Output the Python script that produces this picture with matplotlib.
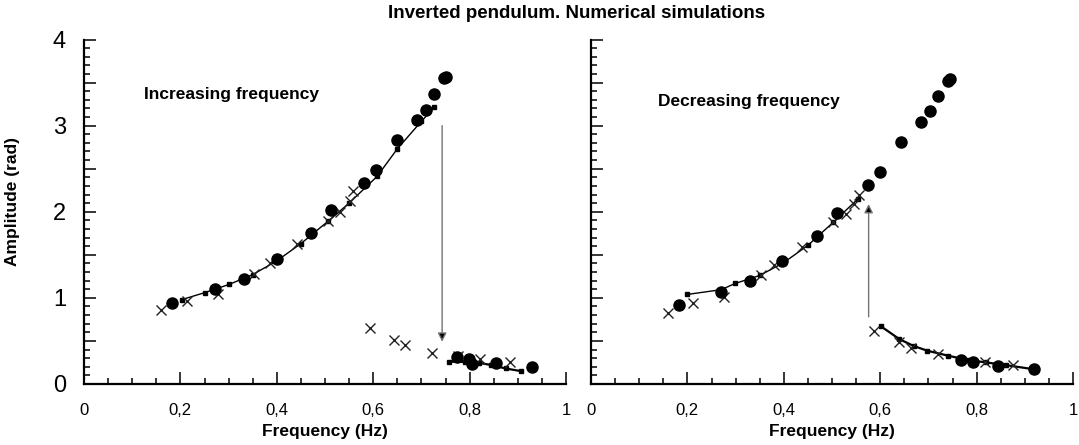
import matplotlib
matplotlib.use("Agg")
import matplotlib.pyplot as plt
from matplotlib.ticker import MultipleLocator, FuncFormatter

# ---------------- data ----------------
# Left panel: increasing frequency
left_dots_x = [0.182, 0.271, 0.332, 0.400, 0.471, 0.513, 0.580, 0.606, 0.649, 0.691,
               0.710, 0.727, 0.747, 0.752, 0.773, 0.798, 0.805, 0.854, 0.930]
left_dots_y = [0.935, 1.098, 1.217, 1.457, 1.750, 2.025, 2.338, 2.490, 2.837, 3.060,
               3.180, 3.370, 3.550, 3.570, 0.310, 0.286, 0.228, 0.239, 0.193]
left_cross_x = [0.159, 0.213, 0.278, 0.353, 0.386, 0.442, 0.507, 0.532, 0.551, 0.559,
                0.593, 0.644, 0.665, 0.722, 0.775, 0.822, 0.883]
left_cross_y = [0.858, 0.966, 1.040, 1.283, 1.410, 1.620, 1.890, 1.998, 2.125, 2.240,
                0.645, 0.510, 0.452, 0.363, 0.320, 0.286, 0.250]
left_sim_up_x = [0.203, 0.25, 0.301, 0.35, 0.40, 0.45, 0.507, 0.55, 0.608, 0.65, 0.70, 0.727]
left_sim_up_y = [0.980, 1.06, 1.156, 1.27, 1.43, 1.63, 1.893, 2.10, 2.410, 2.73, 3.05, 3.215]
left_sim_low_x = [0.757, 0.79, 0.82, 0.845, 0.875, 0.906]
left_sim_low_y = [0.260, 0.255, 0.245, 0.220, 0.180, 0.150]
left_arrow = (0.743, 3.0, 0.743, 0.49)   # x_start, y_start, x_end, y_end

# Right panel: decreasing frequency
right_dots_x = [0.183, 0.270, 0.329, 0.397, 0.469, 0.510, 0.575, 0.600, 0.643, 0.684,
                0.704, 0.719, 0.740, 0.744, 0.767, 0.792, 0.845, 0.920]
right_dots_y = [0.912, 1.070, 1.194, 1.430, 1.720, 1.990, 2.315, 2.460, 2.810, 3.040,
                3.165, 3.340, 3.520, 3.540, 0.278, 0.259, 0.212, 0.170]
right_cross_x = [0.159, 0.212, 0.276, 0.353, 0.380, 0.437, 0.503, 0.529, 0.546, 0.556,
                 0.587, 0.638, 0.663, 0.720, 0.818, 0.876]
right_cross_y = [0.827, 0.935, 1.010, 1.260, 1.380, 1.590, 1.880, 1.970, 2.090, 2.200,
                 0.618, 0.490, 0.420, 0.348, 0.259, 0.220]
right_sim_up_x = [0.200, 0.270, 0.299, 0.35, 0.40, 0.45, 0.503, 0.554]
right_sim_up_y = [1.040, 1.095, 1.167, 1.26, 1.41, 1.61, 1.880, 2.150]
right_sim_low_x = [0.601, 0.640, 0.670, 0.698, 0.740, 0.780, 0.820, 0.860, 0.920]
right_sim_low_y = [0.672, 0.520, 0.440, 0.386, 0.330, 0.280, 0.250, 0.220, 0.170]
right_arrow = (0.576, 0.78, 0.576, 2.09)

title = "Inverted pendulum. Numerical simulations"
xlabel = "Frequency (Hz)"
ylabel = "Amplitude (rad)"
left_note = "Increasing frequency"
right_note = "Decreasing frequency"

# ---------------- figure ----------------
W, H = 1079, 445
fig = plt.figure(figsize=(W / 100, H / 100), dpi=100)
plt.rcParams['font.family'] = ['Liberation Sans', 'DejaVu Sans']

ax_l = fig.add_axes([84 / W, (H - 384) / H, (566 - 84) / W, (384 - 39.5) / H])
ax_r = fig.add_axes([591 / W, (H - 384) / H, (1073 - 591) / W, (384 - 39.5) / H])

tickfont = ['Liberation Sans Narrow', 'Liberation Sans', 'DejaVu Sans']


def xfmt(v, pos):
    if abs(v) < 1e-9:
        return "0"
    if abs(v - 1) < 1e-9:
        return "1"
    return ("%.1f" % v).replace(".", ",")


def yfmt(v, pos):
    if abs(v - round(v)) < 1e-9:
        return "%d" % round(v)
    return ""


def style(ax, show_y):
    ax.set_xlim(0, 1)
    ax.set_ylim(0, 4)
    for s in ("top", "right"):
        ax.spines[s].set_visible(False)
    for s in ("left", "bottom"):
        ax.spines[s].set_linewidth(1.6)
    ax.xaxis.set_major_locator(MultipleLocator(0.2))
    ax.xaxis.set_minor_locator(MultipleLocator(0.05))
    ax.yaxis.set_major_locator(MultipleLocator(0.5))
    ax.yaxis.set_minor_locator(MultipleLocator(0.1))
    ax.xaxis.set_major_formatter(FuncFormatter(xfmt))
    ax.yaxis.set_major_formatter(FuncFormatter(yfmt))
    ax.tick_params(which="major", direction="in", length=8.5, width=1.1)
    ax.tick_params(which="minor", direction="in", length=4.5, width=1.1)
    ax.tick_params(axis="x", which="major", pad=14, labelsize=12)
    ax.tick_params(axis="y", which="major", pad=13, labelsize=17)
    for lab in ax.get_xticklabels():
        lab.set_family(tickfont)
    for lab in ax.get_yticklabels():
        lab.set_family(tickfont)
    if not show_y:
        ax.tick_params(axis="y", labelleft=False)
    ax.set_xlabel(xlabel, fontsize=12.5, fontweight="bold")
    ax.xaxis.set_label_coords(0.5, -0.139)
    ax.xaxis.label.set_va("center")


def draw(ax, dx, dy, cx, cy, ux, uy, lx, ly, arrow):
    ax.plot(ux, uy, "-", color="black", lw=1.0, marker="s", ms=3.5, zorder=2)
    ax.plot(lx, ly, "-", color="black", lw=1.6, marker="s", ms=3.5, zorder=2)
    ax.plot(cx, cy, "x", color="#222222", ms=7, mew=1.0, linestyle="none", zorder=3)
    ax.plot(dx, dy, "o", color="black", ms=8, linestyle="none", zorder=4)
    x0, y0, x1, y1 = arrow
    ax.annotate("", xy=(x1, y1), xytext=(x0, y0),
                arrowprops=dict(arrowstyle="-|>", lw=1.0, ec="0.45", fc="black",
                                mutation_scale=13, shrinkA=0, shrinkB=0))


style(ax_l, True)
style(ax_r, False)
draw(ax_l, left_dots_x, left_dots_y, left_cross_x, left_cross_y,
     left_sim_up_x, left_sim_up_y, left_sim_low_x, left_sim_low_y, left_arrow)
draw(ax_r, right_dots_x, right_dots_y, right_cross_x, right_cross_y,
     right_sim_up_x, right_sim_up_y, right_sim_low_x, right_sim_low_y, right_arrow)

ax_l.set_ylabel(ylabel, fontsize=12.5, fontweight="bold")
ax_l.yaxis.set_label_coords(-0.133, 0.53)

ax_l.text(0.124, 3.36, left_note, fontsize=12.5, fontweight="bold", va="center", ha="left")
ax_r.text(0.140, 3.285, right_note, fontsize=12.5, fontweight="bold", va="center", ha="left")

fig.text(577 / W, 1 - 13 / H, title, fontsize=13.5, fontweight="bold", ha="center", va="center")

fig.savefig("out.png", dpi=100)
